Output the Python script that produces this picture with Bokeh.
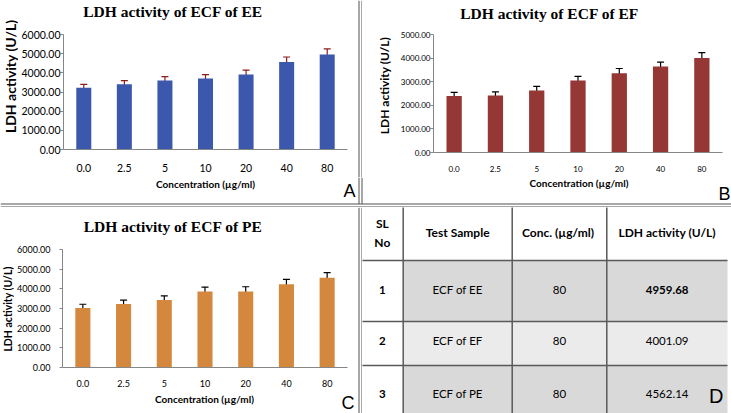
import math
from bokeh.plotting import figure
from bokeh.models import (FactorRange, Range1d, ColumnDataSource, Whisker, TeeHead,
                          FixedTicker, PrintfTickFormatter)
from bokeh.layouts import column, row
from bokeh.embed import file_html
from bokeh.resources import INLINE
from bokeh.core.properties import value

# ---------------- data ----------------
concentrations = ["0.0", "2.5", "5", "10", "20", "40", "80"]

ee_title = "LDH activity of ECF of EE"
ee_mean = [3220, 3400, 3600, 3710, 3910, 4570, 4959.68]
ee_err = [175, 195, 205, 200, 235, 255, 290]
ee_ticks = [0, 1000, 2000, 3000, 4000, 5000, 6000]

ef_title = "LDH activity of ECF of EF"
ef_mean = [2390, 2420, 2630, 3050, 3360, 3640, 4001.09]
ef_err = [160, 145, 170, 175, 200, 190, 230]
ef_ticks = [0, 1000, 2000, 3000, 4000, 5000]

pe_title = "LDH activity of ECF of PE"
pe_mean = [3030, 3230, 3430, 3860, 3870, 4230, 4562.14]
pe_err = [185, 200, 210, 230, 235, 255, 260]
pe_ticks = [0, 1000, 2000, 3000, 4000, 5000, 6000]

x_title = "Concentration (\u00b5g/ml)"
y_title = "LDH activity (U/L)"
panel_letters = ["A", "B", "C", "D"]

table_header = [["SL", "No"], ["Test Sample"], ["Conc.  (\u00b5g/ml)"], ["LDH activity (U/L)"]]
table_sl = ["1", "2", "3"]
table_sample = ["ECF of EE", "ECF of EF", "ECF of PE"]
table_conc = ["80", "80", "80"]
table_ldh = [4959.68, 4001.09, 4562.14]

SANS = "Lato"
SERIF = "Liberation Serif"
LETTER = "Liberation Sans"
AXIS_GRAY = "#868686"
RULE = "#505050"


def canvas(w, h, invert=True):
    """A plain drawing strip whose data units are pixels."""
    p = figure(width=w, height=h, x_range=Range1d(0, w),
               y_range=Range1d(h, 0) if invert else Range1d(0, h),
               output_backend="svg", toolbar_location=None, min_border=0,
               x_axis_type=None, y_axis_type=None, frame_align=False)
    p.outline_line_color = None
    p.grid.visible = False
    return p


def vlines(p, xs, y0, y1):
    p.segment(x0=xs, x1=xs, y0=[y0] * len(xs), y1=[y1] * len(xs), line_color=RULE, line_width=1)


def hlines(p, ys, x0, x1):
    p.segment(x0=[x0] * len(ys), x1=[x1] * len(ys), y0=ys, y1=ys, line_color=RULE, line_width=1)


def text(p, x, y, t, size, font=SANS, style="normal", align="center", angle=0):
    p.text(x=[x], y=[y], text=[t], text_font=value(font), text_font_style=style,
           text_font_size=size, text_align=align, text_baseline="middle", angle=angle,
           text_color="#000000")


def ylabel_strip(w, h, x, y_from_top, size):
    p = canvas(w, h, invert=False)
    text(p, x, h - y_from_top, y_title, size, style="bold", angle=math.pi / 2)
    return p


def bar_panel(cfg, means, errs, ticks, fill, err_color):
    src = ColumnDataSource(dict(
        conc=concentrations, mean=means,
        upper=[m + e for m, e in zip(means, errs)],
        lower=[m - e for m, e in zip(means, errs)]))
    p = figure(width=cfg["w"], height=cfg["h"], x_range=FactorRange(*concentrations),
               y_range=Range1d(ticks[0], ticks[-1]), output_backend="svg",
               toolbar_location=None, min_border_left=cfg["ml"], min_border_right=cfg["mr"],
               min_border_top=cfg["mt"], min_border_bottom=cfg["mb"], frame_align=False)
    p.outline_line_color = None
    p.xgrid.grid_line_color = None
    p.ygrid.grid_line_color = None
    p.vbar(x="conc", top="mean", width=0.37, source=src, fill_color=fill, line_color=None)
    head = dict(size=7, line_color=err_color, line_width=1.2)
    p.add_layout(Whisker(source=src, base="conc", upper="upper", lower="lower",
                         line_color=err_color, line_width=1.2,
                         upper_head=TeeHead(**head), lower_head=TeeHead(**head)))
    p.yaxis.ticker = FixedTicker(ticks=ticks)
    p.yaxis.formatter = PrintfTickFormatter(format="%.2f")
    p.yaxis.axis_line_color = AXIS_GRAY
    p.yaxis.major_tick_line_color = AXIS_GRAY
    p.yaxis.major_tick_in = 0
    p.yaxis.major_tick_out = 3
    p.yaxis.minor_tick_line_color = None
    p.yaxis.major_label_standoff = cfg["ystand"]
    p.yaxis.major_label_text_font = SANS
    p.yaxis.major_label_text_font_size = cfg["tick_fs"]
    p.yaxis.major_label_text_color = "#000000"
    p.xaxis.axis_line_color = AXIS_GRAY
    p.xaxis.major_tick_line_color = None
    p.xaxis.major_tick_out = 0
    p.xaxis.minor_tick_line_color = None
    p.xaxis.major_label_standoff = cfg["xstand"]
    p.xaxis.major_label_text_font = SANS
    p.xaxis.major_label_text_font_size = cfg["tick_fs"]
    p.xaxis.major_label_text_color = "#000000"
    return p


# ---------------- top block (panels A and B) ----------------
H_T, H_M, H_B = 24, 153, 30        # title strip, chart row, label strip
W_YLA, W_A = 18, 339               # left half: 357
W_SEP = 5
W_YLB, W_B = 32, 337               # right half: 369

tA = canvas(W_A, H_T)
text(tA, 154.5, 10.5, ee_title, "15.5px", font=SERIF, style="bold")
cfgA = dict(w=W_A, h=H_M, ml=44, mr=10, mt=10, mb=28, tick_fs="10.5px", ystand=0, xstand=14)
pA = bar_panel(cfgA, ee_mean, ee_err, ee_ticks, "#3b58ad", "#8b1c1c")
ylA = ylabel_strip(W_YLA, H_T + H_M, 9.5, 75.8, "14px")
left_top = row(ylA, column(tA, pA))

sep_top = canvas(W_SEP, H_T + H_M)
vlines(sep_top, [1.5, 4.5], 0, H_T + H_M)

tB = canvas(W_YLB + W_B, H_T)
text(tB, 187, 12.5, ef_title, "15.5px", font=SERIF, style="bold")
cfgB = dict(w=W_B, h=H_M, ml=39, mr=9, mt=10, mb=25, tick_fs="8px", ystand=0, xstand=13)
pB = bar_panel(cfgB, ef_mean, ef_err, ef_ticks, "#953735", "#000000")
ylB = ylabel_strip(W_YLB, H_M, 22, 85 - H_T, "12px")
right_top = column(tB, row(ylB, pB))

b_top = canvas(731, H_B)
text(b_top, 205, 6, x_title, "10px", style="bold")
text(b_top, 578.5, 5.7, x_title, "10px", style="bold")
text(b_top, 355, 13.5, panel_letters[0], "18px", font=LETTER, align="right")
text(b_top, 730, 16.5, panel_letters[1], "18px", font=LETTER, align="right")
vlines(b_top, [358.5, 361.5], 0, 26.5)
hlines(b_top, [26.5, 29.5], 0, 731)

top_block = column(row(left_top, sep_top, right_top), b_top)

# ---------------- bottom-left block (panel C) ----------------
HC_T, HC_M, HC_B = 30, 154, 22
W_YLC, W_C = 14, 343

tC = canvas(357, HC_T)
text(tC, 172.5, 19, pe_title, "15.5px", font=SERIF, style="bold")
cfgC = dict(w=W_C, h=HC_M, ml=46, mr=10, mt=12, mb=24, tick_fs="9px", ystand=9, xstand=12)
pC = bar_panel(cfgC, pe_mean, pe_err, pe_ticks, "#d4883e", "#000000")
ylC = ylabel_strip(W_YLC, HC_M, 7.8, 308.5 - 207 - HC_T, "10.5px")

bC = canvas(357, HC_B)
text(bC, 204, 7.3, x_title, "10px", style="bold")
text(bC, 354, 11.5, panel_letters[2], "18px", font=LETTER, align="right")

left_bottom = column(tC, row(ylC, pC), bC)

sep_bot = canvas(W_SEP, HC_T + HC_M + HC_B)
vlines(sep_bot, [1.5, 4.5], 0, HC_T + HC_M + HC_B)

# ---------------- table (panel D) ----------------
col_edges = [361, 402.7, 511.7, 606.3, 727]
row_edges = [204, 260, 321, 365, 413]
row_text_y = [289, 340, 393]
row_fill = ["#d9d9d9", "#ebebeb", "#d9d9d9"]

pD = figure(width=369, height=206, x_range=Range1d(362, 731), y_range=Range1d(413, 207),
            output_backend="svg", toolbar_location=None, min_border=0,
            x_axis_type=None, y_axis_type=None, frame_align=False)
pD.outline_line_color = None
pD.grid.visible = False

cells = dict(left=[], right=[], top=[], bottom=[], fill=[])
for i in range(len(table_sl)):
    for j in range(1, 4):
        cells["left"].append(col_edges[j])
        cells["right"].append(col_edges[j + 1])
        cells["top"].append(row_edges[i + 1])
        cells["bottom"].append(row_edges[i + 2])
        cells["fill"].append(row_fill[i])
pD.quad(left="left", right="right", top="top", bottom="bottom", fill_color="fill",
        line_color=None, source=ColumnDataSource(cells))

pD.segment(x0=col_edges[1:4], x1=col_edges[1:4], y0=[row_edges[0]] * 3, y1=[row_edges[-1]] * 3,
           line_color="#595959", line_width=1.5)
pD.segment(x0=[col_edges[0]] * 3, x1=[col_edges[-1]] * 3, y0=row_edges[1:4], y1=row_edges[1:4],
           line_color="#595959", line_width=1.5)

centers = [(col_edges[k] + col_edges[k + 1]) / 2 for k in range(4)]
hx, hy, ht = [], [], []
header_mid = (row_edges[0] + row_edges[1]) / 2
line_gap = 19
for k, lines in enumerate(table_header):
    n = len(lines)
    for m, t in enumerate(lines):
        hx.append(centers[k])
        hy.append(header_mid + (m - (n - 1) / 2) * line_gap)
        ht.append(t)
pD.text(x=hx, y=hy, text=ht, text_font=value(SANS), text_font_style="bold",
        text_font_size="12px", text_align="center", text_baseline="middle", text_color="#000000")

ldh_max = max(table_ldh)
body = dict(x=[], y=[], t=[], style=[])
for i in range(len(table_sl)):
    vals = [table_sl[i], table_sample[i], table_conc[i], "%.2f" % table_ldh[i]]
    styles = ["bold", "normal", "normal", "bold" if table_ldh[i] == ldh_max else "normal"]
    for k in range(4):
        body["x"].append(centers[k])
        body["y"].append(row_text_y[i])
        body["t"].append(vals[k])
        body["style"].append(styles[k])
pD.text(x="x", y="y", text="t", text_font_style="style", source=ColumnDataSource(body),
        text_font=value(SANS), text_font_size="11.5px", text_align="center",
        text_baseline="middle", text_color="#000000")
text(pD, 723, 395.5, panel_letters[3], "20px", font=LETTER, align="right")

layout = column(top_block, row(left_bottom, sep_bot, pD))

open("out.html", "w").write(file_html(layout, INLINE))
